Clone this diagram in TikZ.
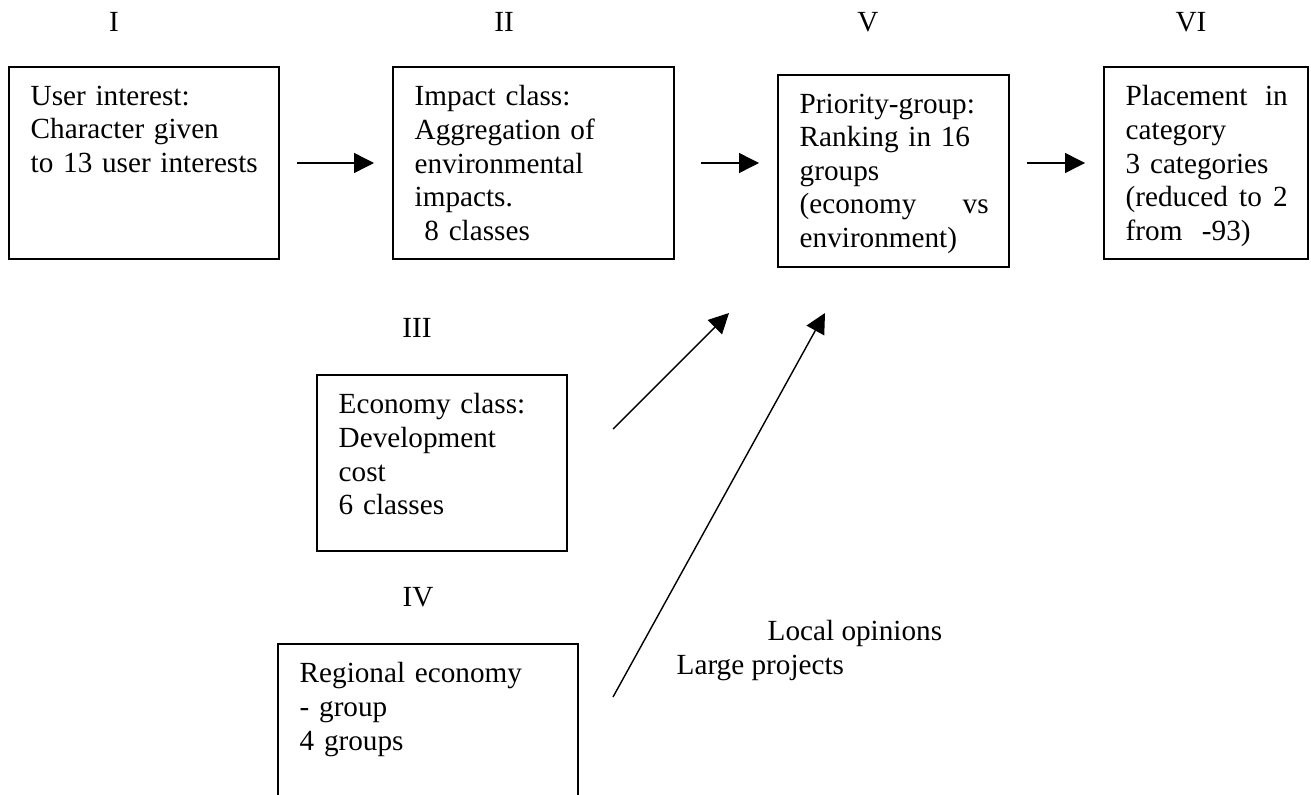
\documentclass[tikz,border=0pt]{standalone}
\usepackage{fontspec}
\setmainfont{Liberation Serif}
\usetikzlibrary{calc, arrows.meta}

\newcommand{\boxfont}{\fontsize{8.31}{9.56}\selectfont}

\begin{document}
\begin{tikzpicture}[x=1cm, y=1cm, >={Triangle[length=0.2cm, width=0.2cm]},
    box/.style={draw, line width=0.45pt, inner sep=0pt, outer sep=0pt, anchor=north west},
    boxtext/.style={anchor=north west, align=left, inner xsep=0.21cm, inner ysep=0.18cm, font=\boxfont},
    roman/.style={anchor=base, inner sep=0pt, font=\boxfont},
    flow/.style={->, line width=0.4pt}]

    % ==========================================
    % 1. PAGE FRAME
    % ==========================================
    \useasboundingbox (0, 0) rectangle (13.11, -7.94);
    \clip (0, 0) rectangle (13.11, -7.94);

    % ==========================================
    % 2. STEP NUMBERS
    % ==========================================
    \node[roman] (nI)   at (1.14, -0.32) {I};
    \node[roman] (nII)  at (5.04, -0.32) {II};
    \node[roman] (nV)   at (8.68, -0.32) {V};
    \node[roman] (nVI)  at (11.91, -0.32) {VI};
    \node[roman] (nIII) at (4.17, -3.37) {III};
    \node[roman] (nIV)  at (4.18, -6.06) {IV};

    % ==========================================
    % 3. BOXES (frame + text)
    % ==========================================
    % Top row
    \node[box, minimum width=2.70cm, minimum height=1.92cm] (user) at (0.09, -0.67) {};
    \node[boxtext, text width=2.28cm] (usertxt) at (user.north west)
        {User interest:\\Character given\\to 13 user interests};

    \node[box, minimum width=2.81cm, minimum height=1.92cm] (impact) at (3.93, -0.67) {};
    \node[boxtext, text width=2.39cm] (impacttxt) at (impact.north west)
        {Impact class:\\Aggregation of\\environmental\\impacts.\\\ 8 classes};

    \node[box, minimum width=2.31cm, minimum height=1.92cm] (priority) at (7.78, -0.75) {};
    \node[boxtext, text width=1.89cm] (prioritytxt) at (priority.north west)
        {Priority-group:\\Ranking in 16\\groups\\(economy \hfill vs\\environment)};

    \node[box, minimum width=2.04cm, minimum height=1.92cm] (place) at (11.04, -0.67) {};
    \node[boxtext, text width=1.62cm] (placetxt) at (place.north west)
        {Placement \hfill in\\category\\3 categories\\(reduced \hfill to \hfill 2\\from\ \ -93)};

    % Lower column
    \node[box, minimum width=2.50cm, minimum height=1.76cm] (economy) at (3.17, -3.75) {};
    \node[boxtext, text width=2.08cm] (economytxt) at (economy.north west)
        {Economy class:\\Development\\cost\\6 classes};

    \node[box, minimum width=3.00cm, minimum height=2.10cm] (regional) at (2.78, -6.44) {};
    \node[boxtext, text width=2.58cm] (regionaltxt) at (regional.north west)
        {Regional economy\\- group\\4 groups};

    % ==========================================
    % 4. ARROWS
    % ==========================================
    \draw[flow, shorten <=0.18cm, shorten >=0.19cm] (user.east) -- (impact.west |- user.east);
    \draw[flow, shorten <=0.27cm, shorten >=0.19cm] (impact.east) -- (priority.west |- impact.east);
    \draw[flow, shorten <=0.18cm, shorten >=0.19cm] (priority.east |- place.west) -- (place.west);

    % Free-standing arrows under the priority box
    \coordinate (econstart) at (6.13, -4.29);
    \coordinate (econtip)   at (7.29, -3.13);
    \coordinate (regstart)  at (6.13, -6.97);
    \coordinate (regtip)    at (8.25, -3.13);
    \draw[flow] (econstart) -- (econtip);
    \draw[flow] (regstart) -- (regtip);

    % ==========================================
    % 5. SIDE NOTES
    % ==========================================
    \node[anchor=base west, inner sep=0pt, font=\boxfont] (opinions) at (7.67, -6.40) {Local opinions};
    \node[anchor=base west, inner sep=0pt, font=\boxfont] (projects) at (6.76, -6.74) {Large projects};

\end{tikzpicture}
\end{document}
